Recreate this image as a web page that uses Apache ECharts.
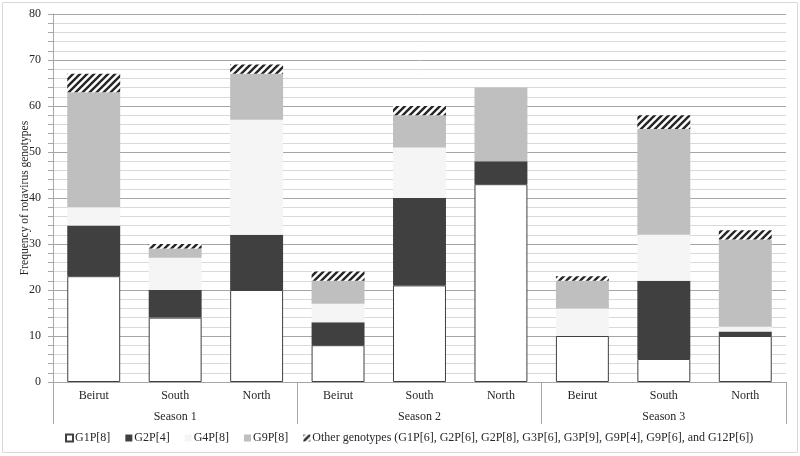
<!DOCTYPE html>
<html>
<head>
<meta charset="utf-8">
<script src="https://cdn.jsdelivr.net/npm/echarts@6/dist/echarts.min.js"></script>
<style>
html,body{margin:0;padding:0;background:#fff;}
#chart{width:800px;height:456px;}
</style>
</head>
<body>
<div id="chart"></div>
<script>
const regions = ['Beirut','South','North','Beirut','South','North','Beirut','South','North'];
const seasons = ['Season 1','Season 2','Season 3'];
const g1p8 = [23, 14, 20, 8, 21, 43, 10, 5, 10];
const g2p4 = [11, 6, 12, 5, 19, 5, 0, 17, 1];
const g4p8 = [4, 7, 25, 4, 11, 0, 6, 10, 1];
const g9p8 = [25, 2, 10, 5, 7, 16, 6, 23, 19];
const other = [4, 1, 2, 2, 2, 0, 1, 3, 2];
const seriesNames = ['G1P[8]','G2P[4]','G4P[8]','G9P[8]','Other genotypes (G1P[6], G2P[6], G2P[8], G3P[6], G3P[9], G9P[4], G9P[6], and G12P[6])'];

const P = 7;
const cv = document.createElement('canvas');
cv.width = P; cv.height = P;
const cx = cv.getContext('2d');
cx.fillStyle = '#ffffff';
cx.fillRect(0,0,P,P);
cx.strokeStyle = '#262626';
cx.lineWidth = 2.4;
cx.beginPath();
cx.moveTo(-1, P+1); cx.lineTo(P+1, -1);
cx.moveTo(-1, 1); cx.lineTo(1, -1);
cx.moveTo(P-1, P+1); cx.lineTo(P+1, P-1);
cx.stroke();
const hatch = {image: cv, repeat: 'repeat'};

const font = '"Liberation Serif", "Times New Roman", serif';
const txt = '#262626';
const chart = echarts.init(document.getElementById('chart'), null, {renderer:'canvas'});
const mk = (name, data, style) => ({
  name, type:'bar', stack:'t', data, barWidth:'65%', xAxisIndex:0,
  itemStyle: style, emphasis:{disabled:true}
});
chart.setOption({
  animation:false,
  textStyle:{fontFamily:font},
  graphic:[{type:'rect', shape:{x:2.5,y:2.5,width:795,height:450}, style:{fill:'none', stroke:'#d9d9d9', lineWidth:1}, silent:true, z:-1}],
  grid:{left:53, right:14, top:14, bottom:74, containLabel:false},
  legend:{
    bottom:7, left:60, itemWidth:7, itemHeight:7, itemGap:15,
    icon:'rect',
    textStyle:{fontFamily:font, fontSize:12, color:txt, padding:[0,0,0,-3]},
    data: seriesNames
  },
  xAxis:[
    {type:'category', data:regions, position:'bottom',
     axisLine:{lineStyle:{color:'#a6a6a6'}}, axisTick:{show:false},
     axisLabel:{fontFamily:font, fontSize:12, color:txt, margin:8, interval:0}},
    {type:'category', data:seasons, position:'bottom',
     axisLine:{show:false},
     axisTick:{show:true, length:42, interval:0, lineStyle:{color:'#a6a6a6'}},
     axisLabel:{fontFamily:font, fontSize:12, color:txt, margin:29, interval:0}}
  ],
  yAxis:{
    type:'value', min:0, max:80, interval:2,
    name:'Frequency of rotavirus genotypes', nameLocation:'middle', nameGap:22, nameRotate:90,
    nameMoveOverlap:false,
    nameTextStyle:{fontFamily:font, fontSize:11.5, color:txt},
    axisLine:{show:true, lineStyle:{color:'#a6a6a6'}},
    axisTick:{show:true, length:5, lineStyle:{color:'#a6a6a6'}},
    axisLabel:{fontFamily:font, fontSize:12, color:txt, margin:12, formatter:v => (v % 10 === 0 ? String(v) : '')},
    splitLine:{show:true, lineStyle:{color:['#a6a6a6','#d9d9d9','#d9d9d9','#d9d9d9','#d9d9d9'], width:1}}
  },
  series:[
    mk(seriesNames[0], g1p8, {color:'#ffffff', borderColor:'#404040', borderWidth:1}),
    mk(seriesNames[1], g2p4, {color:'#404040'}),
    mk(seriesNames[2], g4p8, {color:'#f5f5f5'}),
    mk(seriesNames[3], g9p8, {color:'#bfbfbf'}),
    mk(seriesNames[4], other, {color:hatch})
  ]
});
</script>
</body>
</html>
